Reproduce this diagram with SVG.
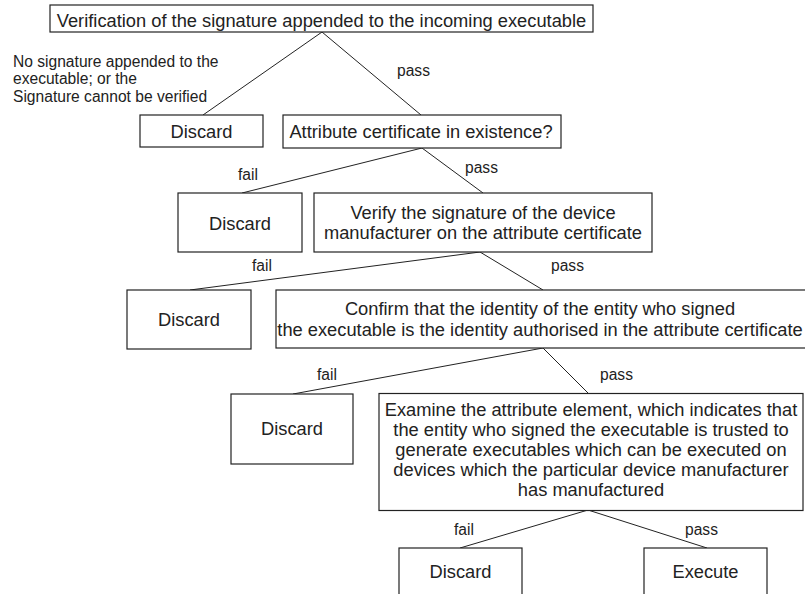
<svg xmlns="http://www.w3.org/2000/svg" width="805" height="594" viewBox="0 0 805 594">
  <style>
    .box { fill: #ffffff; stroke: #222222; stroke-width: 1.2; }
    .edge { fill: none; stroke: #222222; stroke-width: 1; }
    .node-text { font-family: "Liberation Sans", Arial, sans-serif; font-size: 18.3px; fill: #222222; text-anchor: middle; }
    .label { font-family: "Liberation Sans", Arial, sans-serif; font-size: 15.6px; fill: #222222; }
  </style>
  <rect x="0" y="0" width="805" height="594" fill="#ffffff"/>

  <!-- connectors -->
  <g id="connectors">
    <line class="edge" x1="322" y1="32" x2="203" y2="115"/>
    <line class="edge" x1="322" y1="32" x2="421" y2="115"/>
    <line class="edge" x1="422" y1="148" x2="242" y2="193"/>
    <line class="edge" x1="422" y1="148" x2="483" y2="193"/>
    <line class="edge" x1="480" y1="252" x2="190" y2="290"/>
    <line class="edge" x1="480" y1="252" x2="543" y2="290"/>
    <line class="edge" x1="543" y1="348" x2="293" y2="394"/>
    <line class="edge" x1="543" y1="348" x2="589" y2="394"/>
    <line class="edge" x1="588" y1="510" x2="460" y2="548"/>
    <line class="edge" x1="588" y1="510" x2="707" y2="548"/>

    <text class="label" x="13" y="66.5">No signature appended to the</text>
    <text class="label" x="13" y="84">executable; or the</text>
    <text class="label" x="13" y="101.5">Signature cannot be verified</text>
    <text class="label" x="397" y="76">pass</text>
    <text class="label" x="238" y="180">fail</text>
    <text class="label" x="465" y="173">pass</text>
    <text class="label" x="252" y="271">fail</text>
    <text class="label" x="551" y="271">pass</text>
    <text class="label" x="317" y="380">fail</text>
    <text class="label" x="600" y="380">pass</text>
    <text class="label" x="454" y="535">fail</text>
    <text class="label" x="685" y="535">pass</text>
  </g>

  <!-- nodes -->
  <g id="verify-executable">
    <rect class="box" x="50" y="5" width="543" height="27"/>
    <text class="node-text" x="321.5" y="27">Verification of the signature appended to the incoming executable</text>
  </g>
  <g id="discard-1">
    <rect class="box" x="140" y="115" width="123" height="32"/>
    <text class="node-text" x="201.5" y="138">Discard</text>
  </g>
  <g id="attribute-cert">
    <rect class="box" x="283" y="115" width="278" height="33"/>
    <text class="node-text" x="421" y="138">Attribute certificate in existence?</text>
  </g>
  <g id="discard-2">
    <rect class="box" x="178" y="193" width="124" height="59"/>
    <text class="node-text" x="240" y="230">Discard</text>
  </g>
  <g id="verify-manufacturer">
    <rect class="box" x="314" y="193" width="338" height="59"/>
    <text class="node-text" x="483" y="219">Verify the signature of the device</text>
    <text class="node-text" x="483" y="239">manufacturer on the attribute certificate</text>
  </g>
  <g id="discard-3">
    <rect class="box" x="127" y="290" width="124" height="59"/>
    <text class="node-text" x="189" y="326">Discard</text>
  </g>
  <g id="confirm-identity">
    <rect class="box" x="276" y="290" width="532" height="58"/>
    <text class="node-text" x="540" y="315">Confirm that the identity of the entity who signed</text>
    <text class="node-text" x="540" y="336">the executable is the identity authorised in the attribute certificate</text>
  </g>
  <g id="discard-4">
    <rect class="box" x="231" y="394" width="122" height="70"/>
    <text class="node-text" x="292" y="435">Discard</text>
  </g>
  <g id="examine-attribute">
    <rect class="box" x="379" y="393.5" width="424" height="117"/>
    <text class="node-text" x="591" y="415.5">Examine the attribute element, which indicates that</text>
    <text class="node-text" x="591" y="435.5">the entity who signed the executable is trusted to</text>
    <text class="node-text" x="591" y="455.5">generate executables which can be executed on</text>
    <text class="node-text" x="591" y="475.5">devices which the particular device manufacturer</text>
    <text class="node-text" x="591" y="495.5">has manufactured</text>
  </g>
  <g id="discard-5">
    <rect class="box" x="399" y="548" width="123" height="60"/>
    <text class="node-text" x="460.5" y="578">Discard</text>
  </g>
  <g id="execute">
    <rect class="box" x="644" y="548" width="123" height="60"/>
    <text class="node-text" x="705.5" y="578">Execute</text>
  </g>
</svg>
